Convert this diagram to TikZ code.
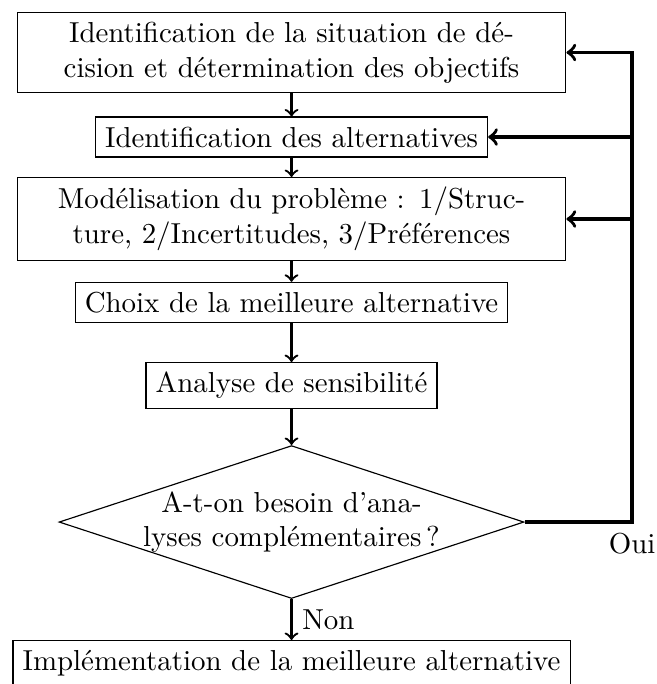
\documentclass[tikz,border=0pt]{standalone}
\usepackage{tikz}
\usetikzlibrary{shapes.geometric, calc}

\begin{document}
\begin{tikzpicture}[
  box/.style={draw, thin, inner sep=3.33pt},
  large/.style={box, text width=6.44cm, align=center},
  question/.style={
    draw, thin, diamond, aspect=3.04,
    text width=4cm, align=center, inner xsep=-8.7pt, inner ysep=0pt},
  flow/.style={->, thick},
  back/.style={->, very thick},
]
  \useasboundingbox (0,0) rectangle (7.98,-8.32);

  %% Steps
  \node[large] (ident) at (3.546,-0.639)
    {Identification de la situation de dé-\\cision et détermination des objectifs};
  \node[box] (altern) at (3.546,-1.667) {Identification des alternatives};
  \node[large] (model) at (3.546,-2.664)
    {Modélisation du problème : 1/Struc-\\ture, 2/Incertitudes, 3/Préférences};
  \node[box] (choix) at (3.546,-3.680) {Choix de la meilleure alternative};
  \node[box] (sensi) at (3.546,-4.690) {Analyse de sensibilité};

  %% Decision
  \node[question] (besoin) at (3.546,-6.350)
    {A-t-on besoin d’ana-\\lyses complémentaires\,?};
  \node[box] (implem) at (3.546,-8.066)
    {Implémentation de la meilleure alternative};

  %% Main flow
  \draw[flow] (ident) -- (altern);
  \draw[flow] (altern) -- (model);
  \draw[flow] (model) -- (choix);
  \draw[flow] (choix) -- (sensi);
  \draw[flow] (sensi) -- (besoin);
  \draw[flow] (besoin) -- node[right] {Non} (implem);

  %% Loop back (Oui)
  \coordinate (retour) at (7.689,-6.350);
  \draw[back] (besoin.east) -- (retour) node[below] {Oui}
    -- (retour |- ident.east) -- (ident.east);
  \draw[back] (retour |- altern.east) -- (altern.east);
  \draw[back] (retour |- model.east) -- (model.east);
\end{tikzpicture}
\end{document}
